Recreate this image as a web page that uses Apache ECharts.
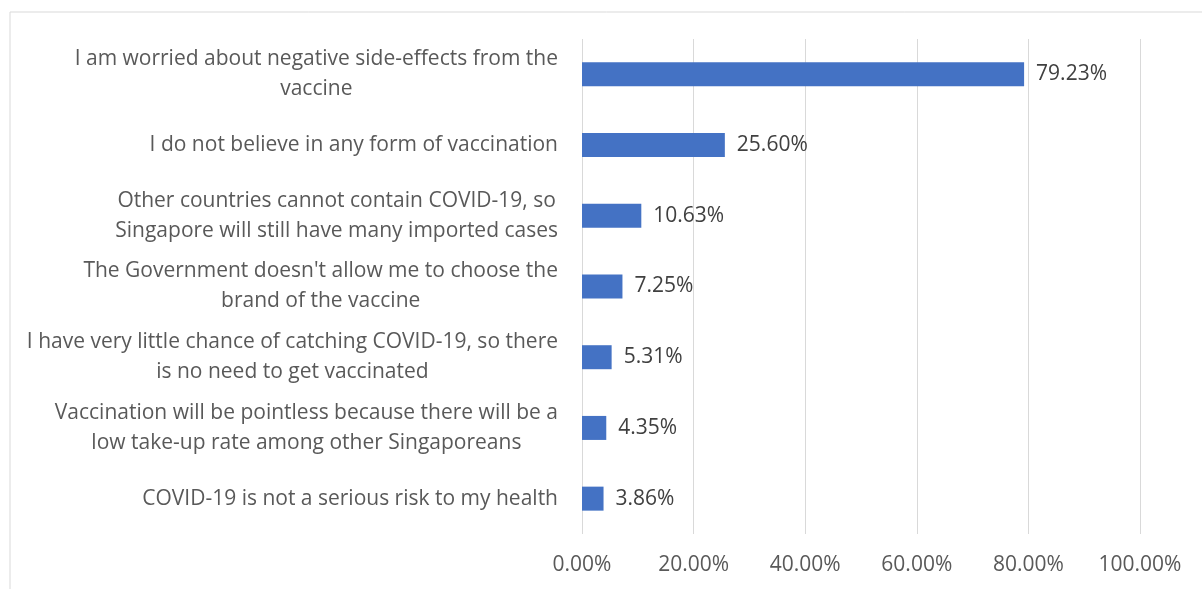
<!DOCTYPE html>
<html>
<head>
<meta charset="utf-8">
<script src="https://cdn.jsdelivr.net/npm/echarts@6/dist/echarts.min.js"></script>
<style>
html,body{margin:0;padding:0;background:#fff;}
#c{width:1202px;height:589px;}
</style>
</head>
<body>
<div id="c"></div>
<script>
const categories = [
  "I am worried about negative side-effects from the\nvaccine",
  "I do not believe in any form of vaccination",
  "Other countries cannot contain COVID-19, so\nSingapore will still have many imported cases",
  "The Government doesn't allow me to choose the\nbrand of the vaccine",
  "I have very little chance of catching COVID-19, so there\nis no need to get vaccinated",
  "Vaccination will be pointless because there will be a\nlow take-up rate among other Singaporeans",
  "COVID-19 is not a serious risk to my health"
];
const values = [79.23, 25.60, 10.63, 7.25, 5.31, 4.35, 3.86];
const tickLabels = ["0.00%", "20.00%", "40.00%", "60.00%", "80.00%", "100.00%"];

const FONT = '"Open Sans", "Noto Sans", sans-serif';
const FS = 21;
const chart = echarts.init(document.getElementById('c'));
chart.setOption({
  animation: false,
  backgroundColor: '#fff',
  graphic: [{
    type: 'rect', left: 7.5, top: 9.5, silent: true,
    shape: {width: 1300, height: 700},
    style: {fill: 'none', stroke: '#d9d9d9', lineWidth: 1}
  }],
  grid: {left: 582, right: 62, top: 39, bottom: 55},
  xAxis: {
    type: 'value', min: 0, max: 100, interval: 20,
    axisLine: {show: false}, axisTick: {show: false},
    splitLine: {lineStyle: {color: '#d9d9d9', width: 1}},
    axisLabel: {
      margin: 21, fontFamily: FONT, fontSize: FS, color: '#595959',
      formatter: function (v) { return tickLabels[Math.round(v / 20)]; }
    }
  },
  yAxis: {
    type: 'category', data: categories, inverse: true,
    axisLine: {show: false}, axisTick: {show: false},
    axisLabel: {
      margin: 24, align: 'right', fontFamily: FONT, fontSize: FS, color: '#595959',
      lineHeight: 30,
      formatter: function (v) {
        return v.split('\n').map(function (l) { return '{c|' + l + '}'; }).join('\n');
      },
      rich: {c: {align: 'center', fontFamily: FONT, fontSize: FS, color: '#595959', lineHeight: 30}}
    }
  },
  series: [{
    type: 'bar', data: values, barWidth: 24,
    itemStyle: {color: '#4472C4'},
    label: {
      show: true, position: 'right', distance: 12,
      fontFamily: FONT, fontSize: FS, color: '#404040',
      formatter: function (p) { return p.value.toFixed(2) + '%'; }
    }
  }]
});
</script>
</body>
</html>
